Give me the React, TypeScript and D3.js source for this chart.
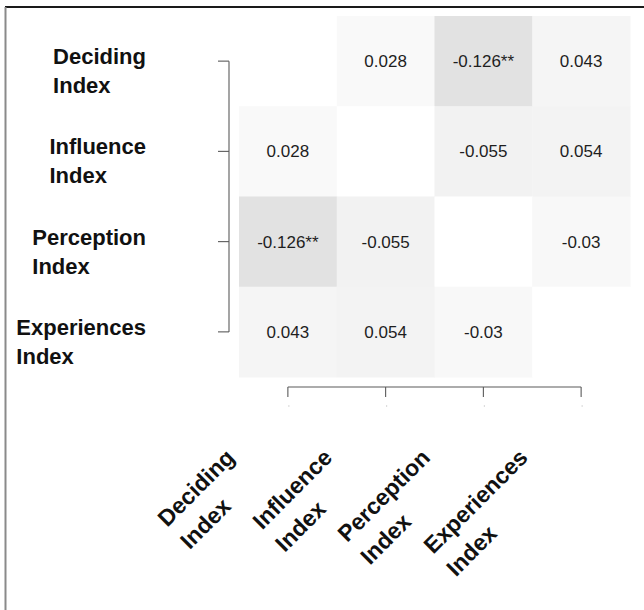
import React, { useEffect, useRef } from "react";
import * as d3 from "d3";

// ---- data ----
const variables = ["Deciding Index", "Influence Index", "Perception Index", "Experiences Index"];
const decidingRow = [null, 0.028, -0.126, 0.043];
const influenceRow = [0.028, null, -0.055, 0.054];
const perceptionRow = [-0.126, -0.055, null, -0.03];
const experiencesRow = [0.043, 0.054, -0.03, null];
const corrRows: (number | null)[][] = [decidingRow, influenceRow, perceptionRow, experiencesRow];
const significantPairs = [
  ["Deciding Index", "Perception Index", "**"],
  ["Perception Index", "Deciding Index", "**"],
];

const W = 644;
const H = 610;
const FONT = "'Liberation Sans', Arial, Helvetica, sans-serif";

export default function App() {
  const ref = useRef<SVGSVGElement | null>(null);

  useEffect(() => {
    const svg = d3.select(ref.current);
    svg.selectAll("*").remove();

    svg.append("rect").attr("width", W).attr("height", H).attr("fill", "#ffffff");

    // frame
    svg.append("line").attr("x1", 5).attr("x2", W).attr("y1", 7).attr("y2", 7)
      .attr("stroke", "#1a1a1a").attr("stroke-width", 2);
    svg.append("line").attr("x1", 5.5).attr("x2", 5.5).attr("y1", 7).attr("y2", H)
      .attr("stroke", "#8a8a8a").attr("stroke-width", 2);

    const x = d3.scaleBand<string>().domain(variables).range([239, 630]).padding(0);
    const y = d3.scaleBand<string>().domain(variables).range([16, 377]).padding(0);
    const color = d3.scaleLinear<string>().domain([0, 0.126]).range(["#ffffff", "#e2e2e2"]).clamp(true);

    const cells: { r: string; c: string; v: number | null }[] = [];
    variables.forEach((r, i) => variables.forEach((c, j) => cells.push({ r, c, v: corrRows[i][j] })));

    const g = svg.append("g");
    g.selectAll("rect.cell").data(cells).enter().append("rect")
      .attr("class", "cell")
      .attr("x", (d) => x(d.c)!)
      .attr("y", (d) => y(d.r)!)
      .attr("width", x.bandwidth() + 0.5)
      .attr("height", y.bandwidth() + 0.5)
      .attr("fill", (d) => (d.v == null ? "#ffffff" : color(Math.abs(d.v))));

    const stars = (d: { r: string; c: string }) => {
      const s = significantPairs.find((p) => p[0] === d.r && p[1] === d.c);
      return s ? s[2] : "";
    };

    g.selectAll("text.val").data(cells.filter((d) => d.v != null)).enter().append("text")
      .attr("class", "val")
      .attr("x", (d) => x(d.c)! + x.bandwidth() / 2)
      .attr("y", (d) => y(d.r)! + y.bandwidth() / 2)
      .attr("dy", "0.36em")
      .attr("text-anchor", "middle")
      .attr("font-family", FONT)
      .attr("font-size", 17)
      .attr("fill", "#1e1e1e")
      .text((d) => String(d.v) + stars(d));

    // y axis bracket
    const axisColor = "#5a5a5a";
    const yAxisX = 229;
    const yc = (v: string) => y(v)! + y.bandwidth() / 2;
    svg.append("line").attr("x1", yAxisX).attr("x2", yAxisX)
      .attr("y1", yc(variables[0])).attr("y2", yc(variables[variables.length - 1]))
      .attr("stroke", axisColor).attr("stroke-width", 1.1);
    svg.selectAll("line.ytick").data(variables).enter().append("line")
      .attr("class", "ytick")
      .attr("x1", yAxisX - 11).attr("x2", yAxisX)
      .attr("y1", (d) => yc(d)).attr("y2", (d) => yc(d))
      .attr("stroke", axisColor).attr("stroke-width", 1.1);

    // x axis bracket
    const xAxisY = 387;
    const xc = (v: string) => x(v)! + x.bandwidth() / 2;
    svg.append("line").attr("y1", xAxisY).attr("y2", xAxisY)
      .attr("x1", xc(variables[0])).attr("x2", xc(variables[variables.length - 1]))
      .attr("stroke", axisColor).attr("stroke-width", 1.1);
    svg.selectAll("line.xtick").data(variables).enter().append("line")
      .attr("class", "xtick")
      .attr("y1", xAxisY).attr("y2", xAxisY + 10)
      .attr("x1", (d) => xc(d)).attr("x2", (d) => xc(d))
      .attr("stroke", axisColor).attr("stroke-width", 1.1);
    svg.selectAll("circle.xdot").data(variables).enter().append("circle")
      .attr("class", "xdot")
      .attr("cx", (d) => xc(d) + 1).attr("cy", xAxisY + 19).attr("r", 0.7)
      .attr("fill", "#c8c8c8");

    // y labels
    variables.forEach((v) => {
      const parts = v.split(" ");
      const t1 = svg.append("text")
        .attr("x", 146).attr("y", yc(v) + 3)
        .attr("text-anchor", "end")
        .attr("font-family", FONT).attr("font-weight", "bold").attr("font-size", 22)
        .attr("fill", "#111").text(parts[0]);
      const w = (t1.node() as SVGTextElement).getComputedTextLength();
      svg.append("text")
        .attr("x", 146 - w).attr("y", yc(v) + 32)
        .attr("text-anchor", "start")
        .attr("font-family", FONT).attr("font-weight", "bold").attr("font-size", 22)
        .attr("fill", "#111").text(parts[1]);
    });

    // x labels (rotated)
    variables.forEach((v) => {
      const parts = v.split(" ");
      const lg = svg.append("g").attr("transform", `translate(${xc(v) - 52},${459}) rotate(-45)`);
      const t1 = lg.append("text")
        .attr("x", 0).attr("y", 0).attr("text-anchor", "end")
        .attr("font-family", FONT).attr("font-weight", "bold").attr("font-size", 23)
        .attr("fill", "#111").text(parts[0]);
      const w = (t1.node() as SVGTextElement).getComputedTextLength();
      lg.append("text")
        .attr("x", -w).attr("y", 32).attr("text-anchor", "start")
        .attr("font-family", FONT).attr("font-weight", "bold").attr("font-size", 23)
        .attr("fill", "#111").text(parts[1]);
    });
  }, []);

  return (
    <svg
      ref={ref}
      width={W}
      height={H}
      style={{ position: "absolute", left: 0, top: 0, display: "block" }}
    />
  );
}
